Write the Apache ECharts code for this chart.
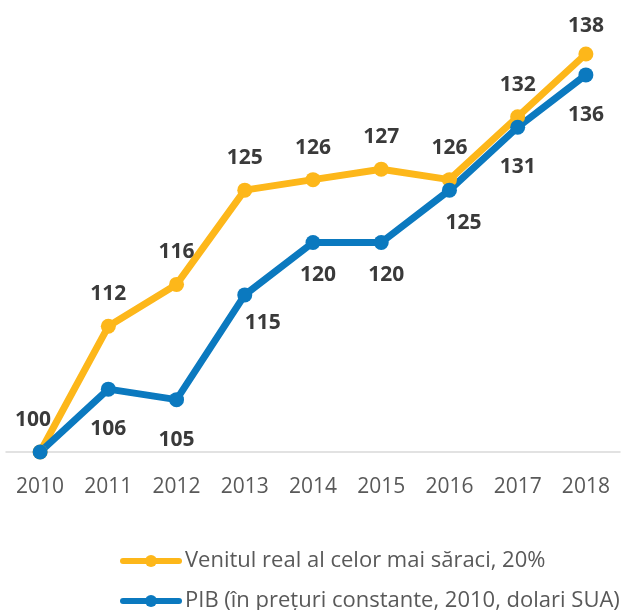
<!DOCTYPE html>
<html>
<head>
<meta charset="utf-8">
<script src="https://cdn.jsdelivr.net/npm/echarts@6/dist/echarts.min.js"></script>
<style>
  html, body { margin: 0; padding: 0; background: #fff; }
  #chart { width: 637px; height: 610px; }
</style>
</head>
<body>
<div id="chart"></div>
<script>
var years = ['2010', '2011', '2012', '2013', '2014', '2015', '2016', '2017', '2018'];
var venitData = [100, 112, 116, 125, 126, 127, 126, 132, 138];
var pibData = [100, 106, 105, 115, 120, 120, 125, 131, 136];
var venitName = 'Venitul real al celor mai săraci, 20%';
var pibName = 'PIB (în prețuri constante, 2010, dolari SUA)';

var chart = echarts.init(document.getElementById('chart'));
var font = '"Open Sans", "Liberation Sans", sans-serif';

// nudges for a few labels, as placed in the original
var venitLabelOffset = { 0: [-7, 0], 8: [0, 4] };
var pibLabelOffset = { 3: [18, -12], 4: [5, -7], 5: [5, -7], 6: [14, -7] };

var option = {
  animation: false,
  grid: { left: 6, right: 17, top: 33, bottom: 158 },
  legend: {
    orient: 'vertical',
    left: 115,
    top: 545,
    height: 66,
    itemWidth: 56,
    itemHeight: 15,
    itemGap: 18,
    lineStyle: { width: 6, cap: 'round' },
    textStyle: { color: '#595959', fontSize: 22, fontFamily: font, padding: [0, 0, 0, 1] },
    data: [venitName, pibName]
  },
  xAxis: {
    type: 'category',
    data: years,
    axisLine: { show: true, lineStyle: { color: '#d9d9d9', width: 1.5 } },
    axisTick: { show: false },
    axisLabel: { color: '#595959', fontSize: 21, fontFamily: font, margin: 25 }
  },
  yAxis: {
    type: 'value',
    min: 100,
    max: 140,
    show: false
  },
  series: [
    {
      name: venitName,
      type: 'line',
      data: venitData.map(function (v, i) {
        return venitLabelOffset[i] ? { value: v, label: { offset: venitLabelOffset[i] } } : v;
      }),
      symbol: 'circle',
      symbolSize: 15,
      itemStyle: { color: '#FDB71A' },
      lineStyle: { color: '#FDB71A', width: 7 },
      label: {
        show: true,
        position: 'top',
        distance: 14,
        color: '#3a3a3a',
        fontSize: 21,
        fontWeight: 'bold',
        fontFamily: font
      }
    },
    {
      name: pibName,
      type: 'line',
      data: pibData.map(function (v, i) {
        if (i === 0) return { value: v, label: { show: false } };
        return pibLabelOffset[i] ? { value: v, label: { offset: pibLabelOffset[i] } } : v;
      }),
      symbol: 'circle',
      symbolSize: 15,
      itemStyle: { color: '#0B79BF' },
      lineStyle: { color: '#0B79BF', width: 7 },
      label: {
        show: true,
        position: 'bottom',
        distance: 22,
        color: '#3a3a3a',
        fontSize: 21,
        fontWeight: 'bold',
        fontFamily: font
      }
    }
  ]
};
chart.setOption(option);
</script>
</body>
</html>
